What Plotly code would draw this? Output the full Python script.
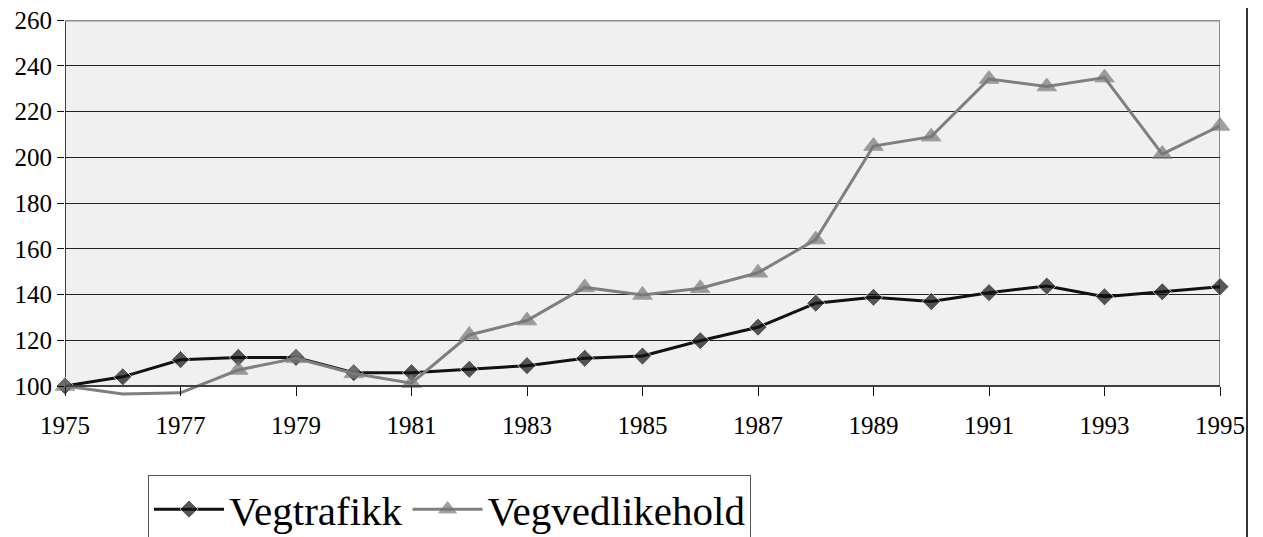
import plotly.graph_objects as go

years = list(range(1975, 1996))
vegtrafikk = [100, 104, 111.5, 112.5, 112.5, 105.8, 105.8, 107.3, 108.9, 112.1, 113.1,
              119.8, 125.7, 136.2, 138.8, 136.9, 140.8, 143.7, 139.0, 141.2, 143.4]
vegvedlikehold = [100, 96.5, 97, 107, 112.1, 105.5, 101.2, 122.3, 128.6, 143.1, 139.8,
                  142.7, 149.5, 164, 204.9, 209, 234.2, 230.9, 234.8, 201.4, 213.7]
x_ticks = list(range(1975, 1996, 2))
y_ticks = list(range(100, 261, 20))
Y_MIN, Y_MAX = 100, 260
X_MIN, X_MAX = 1975, 1995

FONT = "Liberation Serif, Times New Roman, DejaVu Serif"
OFF = 8  # page body margin
W, H = 1263, 537
PX_L, PX_R, PX_T, PX_AX, PX_BOT = 65, 1220, 20, 386, 400
L, T = PX_L - OFF, PX_T - OFF
R = W - (PX_R - OFF)
B = H - (PX_BOT - OFF)
pw, ph = PX_R - PX_L, PX_BOT - PX_T
px_per_unit = (PX_AX - PX_T) / (Y_MAX - Y_MIN)
y_low = Y_MIN - (PX_BOT - PX_AX) / px_per_unit


def py(yp):
    return (PX_BOT - yp) / ph


def px(xp):
    return (xp - PX_L) / pw


tri_sizes = [17 if v >= Y_MIN else 0 for v in vegvedlikehold]
dia_sizes = [14 if v >= Y_MIN else 0 for v in vegtrafikk]

fig = go.Figure()
fig.add_trace(go.Scatter(
    x=years, y=vegtrafikk, name="Vegtrafikk", mode="lines+markers",
    line=dict(color="#111111", width=3),
    marker=dict(symbol="diamond", size=dia_sizes, color="#111111"),
    cliponaxis=False))
fig.add_trace(go.Scatter(
    x=years, y=vegvedlikehold, name="Vegvedlikehold", mode="lines+markers",
    line=dict(color="#7f7f7f", width=3),
    marker=dict(symbol="triangle-up", size=tri_sizes, color="#777777"),
    cliponaxis=False))

fig.update_layout(
    width=W, height=H,
    margin=dict(l=L, r=R, t=T, b=B, pad=0, autoexpand=False),
    paper_bgcolor="white", plot_bgcolor="white",
    font=dict(family=FONT, color="black", size=25),
    showlegend=True,
    legend=dict(
        orientation="h", x=px(148), y=py(475),
        xanchor="left", yanchor="top",
        font=dict(family=FONT, size=41, color="black"),
        bordercolor="#555555", borderwidth=1, bgcolor="white",
        itemwidth=70, tracegroupgap=0),
    xaxis=dict(
        range=[X_MIN, X_MAX], tickvals=x_ticks, ticktext=[str(v) for v in x_ticks],
        anchor="free", position=py(PX_AX),
        showgrid=False, zeroline=False, showline=True, linecolor="#404040", linewidth=2,
        ticks="outside", ticklen=9, tickcolor="#111111", tickwidth=1, automargin=False,
        ticklabelstandoff=8, ticklabeloverflow="allow",
        tickfont=dict(family=FONT, size=25, color="black")),
    yaxis=dict(
        range=[y_low, Y_MAX], tickvals=y_ticks,
        showgrid=True, gridcolor="#222222", gridwidth=1, zeroline=False,
        showline=False, automargin=False, ticklabeloverflow="allow",
        ticks="outside", ticklen=7, tickcolor="#111111", tickwidth=1,
        tickfont=dict(family=FONT, size=25, color="black")),
    shapes=[
        dict(type="rect", xref="x", yref="y", x0=X_MIN, x1=X_MAX, y0=Y_MIN, y1=Y_MAX,
             fillcolor="#f0f0f0", line=dict(width=0), layer="below"),
        dict(type="line", xref="x", yref="y", x0=X_MIN, x1=X_MIN, y0=Y_MIN, y1=Y_MAX,
             line=dict(color="#404040", width=2), layer="below"),
        dict(type="line", xref="x", yref="y", x0=X_MAX, x1=X_MAX, y0=Y_MIN, y1=Y_MAX,
             line=dict(color="#8c8c8c", width=2), layer="below"),
        dict(type="line", xref="x", yref="y", x0=X_MIN, x1=X_MAX, y0=Y_MAX, y1=Y_MAX,
             line=dict(color="#8c8c8c", width=3), layer="below"),
        dict(type="line", xref="paper", yref="paper",
             x0=px(1247), x1=px(1247), y0=py(H + 10), y1=py(-10),
             line=dict(color="#333333", width=2)),
    ],
)

fig.write_html("out.html")
